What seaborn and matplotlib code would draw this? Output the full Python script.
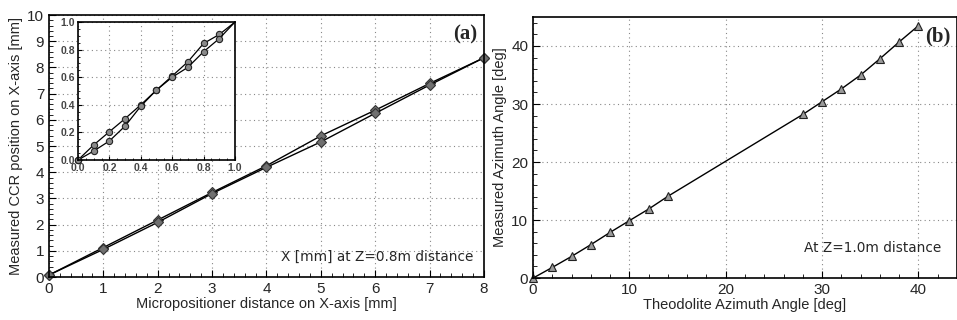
import numpy as np
import pandas as pd
import matplotlib
matplotlib.use("Agg")
import matplotlib.pyplot as plt
import seaborn as sns
from matplotlib.ticker import MultipleLocator

sns.set_style("ticks")
plt.rcParams['font.family'] = ['Liberation Sans', 'DejaVu Sans']

# panel (a): micropositioner steps, two runs
pos_mm = [0, 1, 2, 3, 4, 5, 6, 7, 8]
run_up = [0.08, 1.13, 2.18, 3.23, 4.25, 5.39, 6.37, 7.39, 8.37]
run_down = [0.08, 1.06, 2.09, 3.19, 4.19, 5.16, 6.25, 7.33, 8.37]

# inset: sub-millimetre steps
pos_fine = [0.0, 0.1, 0.2, 0.3, 0.4, 0.5, 0.6, 0.7, 0.8, 0.9, 1.0]
fine_up = [0.0, 0.109, 0.205, 0.30, 0.40, 0.507, 0.609, 0.712, 0.845, 0.91, 1.0]
fine_down = [0.0, 0.065, 0.138, 0.246, 0.39, 0.507, 0.60, 0.672, 0.785, 0.88, 1.0]

# panel (b): azimuth angles
theo_deg = [0, 2, 4, 6, 8, 10, 12, 14, 28, 30, 32, 34, 36, 38, 40]
meas_deg = [0, 1.84, 3.74, 5.76, 7.88, 9.9, 11.9, 14.1, 28.2, 30.4, 32.6, 35.0, 37.8, 40.7, 43.5]

fig = plt.figure(figsize=(9.57, 3.2), dpi=100)
ax_a = fig.add_axes([0.0512, 0.134, 0.4545, 0.819])
ax_b = fig.add_axes([0.557, 0.131, 0.443, 0.816])
ax_in = fig.add_axes([0.0815, 0.5, 0.164, 0.431])

grid_kw = dict(color="#888888", linestyle=(0, (1, 3)), linewidth=0.8)


def style_axes(ax, fs=11):
    ax.grid(True, which="major", **grid_kw)
    ax.tick_params(which="both", direction="in", labelsize=fs, color="black")
    ax.tick_params(which="major", length=5)
    ax.tick_params(which="minor", length=3)
    for s in ax.spines.values():
        s.set_color("black")
        s.set_linewidth(1.2)


# (a)
for yy in [run_up, run_down]:
    sns.lineplot(x=pos_mm, y=yy, ax=ax_a, color="black", linewidth=1.0,
                 marker="D", markersize=5, markerfacecolor="#707070",
                 markeredgecolor="#333333", markeredgewidth=0.8, clip_on=False)
ax_a.set_xlim(0, 8)
ax_a.set_ylim(0, 10)
ax_a.xaxis.set_major_locator(MultipleLocator(1))
ax_a.yaxis.set_major_locator(MultipleLocator(1))
ax_a.xaxis.set_minor_locator(MultipleLocator(0.2))
ax_a.yaxis.set_minor_locator(MultipleLocator(0.2))
style_axes(ax_a)
ax_a.set_xlabel("Micropositioner distance on X-axis [mm]", fontsize=10.5, labelpad=1)
ax_a.set_ylabel("Measured CCR position on X-axis [mm]", fontsize=10.5, labelpad=3)
ax_a.text(0.985, 0.965, "(a)", transform=ax_a.transAxes, ha="right", va="top",
          fontsize=15, fontweight="bold", family=["Liberation Serif", "DejaVu Serif"])
ax_a.text(0.975, 0.076, "X [mm] at Z=0.8m distance", transform=ax_a.transAxes,
          ha="right", va="center", fontsize=9.8, family=["DejaVu Sans"])

# inset
for yy in [fine_up, fine_down]:
    sns.lineplot(x=pos_fine, y=yy, ax=ax_in, color="black", linewidth=0.9,
                 marker="o", markersize=4.5, markerfacecolor="#8a8a8a",
                 markeredgecolor="#222222", markeredgewidth=0.8,
                 markevery=slice(0, 10), clip_on=False)
ax_in.set_facecolor("white")
ax_in.set_xlim(0, 1)
ax_in.set_ylim(0, 1)
ax_in.xaxis.set_major_locator(MultipleLocator(0.2))
ax_in.yaxis.set_major_locator(MultipleLocator(0.2))
ax_in.xaxis.set_minor_locator(MultipleLocator(0.05))
ax_in.yaxis.set_minor_locator(MultipleLocator(0.05))
ax_in.xaxis.set_major_formatter(plt.FormatStrFormatter("%.1f"))
ax_in.yaxis.set_major_formatter(plt.FormatStrFormatter("%.1f"))
style_axes(ax_in, fs=7.5)
ax_in.tick_params(which="major", length=3, pad=2)
ax_in.tick_params(which="minor", length=1.5)
for lab in ax_in.get_xticklabels() + ax_in.get_yticklabels():
    lab.set_fontweight("bold")
    lab.set_color("#444444")

# (b)
sns.lineplot(x=theo_deg, y=meas_deg, ax=ax_b, color="black", linewidth=1.0,
             marker="^", markersize=6, markerfacecolor="#9a9a9a",
             markeredgecolor="#222222", markeredgewidth=0.8, clip_on=False)
ax_b.set_xlim(0, 44)
ax_b.set_ylim(0, 45)
ax_b.xaxis.set_major_locator(MultipleLocator(10))
ax_b.yaxis.set_major_locator(MultipleLocator(10))
ax_b.xaxis.set_minor_locator(MultipleLocator(2))
ax_b.yaxis.set_minor_locator(MultipleLocator(2))
style_axes(ax_b)
ax_b.set_xlabel("Theodolite Azimuth Angle [deg]", fontsize=10.5, labelpad=1)
ax_b.set_ylabel("Measured Azimuth Angle [deg]", fontsize=10.5, labelpad=3)
ax_b.text(0.985, 0.965, "(b)", transform=ax_b.transAxes, ha="right", va="top",
          fontsize=15, fontweight="bold", family=["Liberation Serif", "DejaVu Serif"])
ax_b.text(0.64, 0.115, "At Z=1.0m distance", transform=ax_b.transAxes,
          ha="left", va="center", fontsize=9.8, family=["DejaVu Sans"])

fig.savefig("out.png", dpi=100)
